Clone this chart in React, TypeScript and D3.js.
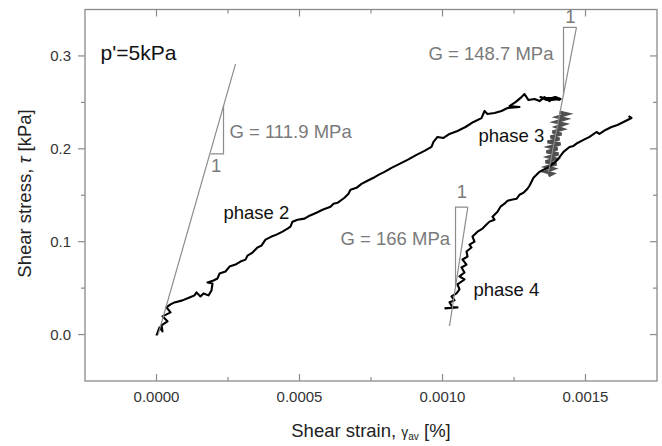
import React from "react";
import * as d3 from "d3";

type P = [number, number];

// Phase 2 loading curve (strain %, stress kPa)
const phase2: P[] = [
  [0, -0.001], [0.0000105, 0.0078], [0.000021, 0.0035], [0.0000175, 0.01], [0.0000385, 0.0143],
  [0.000021, 0.0196], [0.000049, 0.0239], [0.000035, 0.0293], [0.000049, 0.0325], [0.0000629, 0.0346],
  [0.0000909, 0.0368], [0.0001154, 0.04], [0.0001329, 0.0422], [0.0001399, 0.0454], [0.0001538, 0.0411],
  [0.0001643, 0.0443], [0.0001818, 0.0422], [0.0001923, 0.0475], [0.0001958, 0.055], [0.0001783, 0.0561],
  [0.0001993, 0.0582], [0.0002133, 0.0604], [0.0002203, 0.0657], [0.0002413, 0.0679], [0.0002552, 0.0732],
  [0.0002762, 0.0754], [0.0002937, 0.0786], [0.0003112, 0.0807], [0.0003182, 0.085], [0.0003357, 0.0883],
  [0.0003531, 0.0937], [0.0003671, 0.0958], [0.0003811, 0.1022], [0.0004021, 0.1055], [0.0004196, 0.1076],
  [0.0004406, 0.1108], [0.000458, 0.114], [0.0004685, 0.1162], [0.0004755, 0.1215], [0.000493, 0.1237],
  [0.0005175, 0.1248], [0.000535, 0.128], [0.0005594, 0.1312], [0.0005804, 0.1344], [0.0006084, 0.1376],
  [0.0006189, 0.1409], [0.0006329, 0.1419], [0.0006573, 0.1473], [0.0006713, 0.1516], [0.0006783, 0.1559],
  [0.0006993, 0.158], [0.0007168, 0.1623], [0.0007378, 0.1656], [0.0007587, 0.1688], [0.0007762, 0.172],
  [0.0007972, 0.1752], [0.0008217, 0.1795], [0.0008497, 0.1838], [0.0008776, 0.1881], [0.0009091, 0.1935],
  [0.0009371, 0.1978], [0.0009615, 0.2021], [0.0009685, 0.2074], [0.0009825, 0.2128], [0.0010035, 0.2117],
  [0.0010245, 0.216], [0.0010524, 0.2192], [0.0010804, 0.2235], [0.0011084, 0.2289], [0.0011364, 0.2331],
  [0.0011469, 0.2407], [0.0011573, 0.2375], [0.0011818, 0.2385], [0.0012063, 0.2407], [0.0012273, 0.2439],
  [0.0012692, 0.245], [0.0012343, 0.246], [0.0012552, 0.2503], [0.0012762, 0.2557], [0.0012867, 0.2589],
  [0.0013007, 0.2525], [0.0013217, 0.2536], [0.0013392, 0.2514], [0.0013566, 0.2557], [0.0013741, 0.2514],
  [0.0013916, 0.2557], [0.0014091, 0.2525], [0.0013846, 0.2546], [0.0013636, 0.2525], [0.0013427, 0.2557],
  [0.0013671, 0.2536], [0.0013951, 0.2557], [0.0014126, 0.2536], [0.0013811, 0.2525], [0.0013531, 0.2546],
  [0.0014021, 0.2546],
];

// Phase 3 cyclic band
const phase3: P[] = [
  [0.0014091, 0.2396], [0.0014371, 0.2375], [0.0014021, 0.2342], [0.0014301, 0.2321], [0.0013951, 0.2289],
  [0.0014266, 0.2267], [0.0013986, 0.2235], [0.0014196, 0.2213], [0.0013846, 0.2181], [0.0014161, 0.216],
  [0.0013776, 0.2128], [0.0014091, 0.2106], [0.0013671, 0.2074], [0.0014126, 0.2053], [0.0013741, 0.202],
  [0.0014021, 0.1999], [0.0013636, 0.1967], [0.0014056, 0.1945], [0.0013706, 0.1913], [0.0013951, 0.1892],
  [0.0013601, 0.186], [0.0013986, 0.1838], [0.0013636, 0.1806], [0.0013881, 0.1785], [0.0013601, 0.1752],
  [0.0013846, 0.1731], [0.0013706, 0.1709],
];

// Phase 4 reloading curve
const phase4: P[] = [
  [0.001007, 0.0282], [0.0010524, 0.0293], [0.001035, 0.0293], [0.0010245, 0.0347], [0.001042, 0.0368],
  [0.0010315, 0.0411], [0.001049, 0.0443], [0.0010594, 0.0486], [0.0010524, 0.054], [0.0010769, 0.0593],
  [0.0010594, 0.0626], [0.0010769, 0.0668], [0.0010664, 0.0722], [0.0010839, 0.0754], [0.0010699, 0.0808],
  [0.0010874, 0.084], [0.0010839, 0.0894], [0.0011014, 0.0937], [0.0010944, 0.0969], [0.0011119, 0.1001],
  [0.0011049, 0.1055], [0.0011224, 0.1108], [0.0011399, 0.1141], [0.0011538, 0.1184], [0.0011643, 0.1216],
  [0.0011818, 0.1237], [0.0011748, 0.1269], [0.0011923, 0.1323], [0.0012028, 0.1377], [0.0012168, 0.1409],
  [0.0012273, 0.1441], [0.0012413, 0.1452], [0.0012587, 0.1462], [0.0012692, 0.1505], [0.0012832, 0.1527],
  [0.0012972, 0.157], [0.0013042, 0.1602], [0.0013182, 0.1688], [0.0013392, 0.1752], [0.0013531, 0.1774],
  [0.0013671, 0.1795], [0.0013811, 0.1827], [0.0014021, 0.1881], [0.0014231, 0.1967], [0.0014441, 0.202],
  [0.001458, 0.2031], [0.001472, 0.2063], [0.001493, 0.2096], [0.001514, 0.2128], [0.0015385, 0.2181],
  [0.001549, 0.216], [0.0015699, 0.2203], [0.0015909, 0.2235], [0.0016119, 0.2257], [0.0016329, 0.2289],
  [0.0016608, 0.2332], [0.0016504, 0.2353],
];

// Stiffness lines and slope triangles
const lineG1: P[] = [[0.0000056, 0], [0.0002762, 0.2911]];
const triG1: P[] = [[0.0001888, 0.1945], [0.0002343, 0.1945], [0.0002343, 0.2471]];
const lineG2: P[] = [[0.0013706, 0.1752], [0.0014685, 0.3308]];
const triG2: P[] = [[0.0014685, 0.3308], [0.0014231, 0.3308], [0.0014231, 0.2586]];
const lineG3: P[] = [[0.0010245, 0.0092], [0.0010885, 0.1373]];
const triG3: P[] = [[0.0010885, 0.1373], [0.0010455, 0.1373], [0.0010455, 0.0512]];

const xMajor = [0, 0.0005, 0.001, 0.0015];
const xMinor = [0.00025, 0.00075, 0.00125];
const yMajor = [0, 0.1, 0.2, 0.3];
const yMinor = [0.05, 0.15, 0.25];

const grayLabels: { text: string; x: number; y: number; anchor: string }[] = [
  { text: "G = 111.9 MPa", x: 0.0002552, y: 0.2117, anchor: "start" },
  { text: "G = 148.7 MPa", x: 0.000951, y: 0.2954, anchor: "start" },
  { text: "G = 166 MPa", x: 0.0006434, y: 0.0969, anchor: "start" },
  { text: "1", x: 0.0002087, y: 0.1755, anchor: "middle" },
  { text: "1", x: 0.0014476, y: 0.3351, anchor: "middle" },
  { text: "1", x: 0.0010682, y: 0.1473, anchor: "middle" },
];
const blackLabels: { text: string; x: number; y: number }[] = [
  { text: "phase 2", x: 0.0002343, y: 0.1248 },
  { text: "phase 3", x: 0.0011259, y: 0.2074 },
  { text: "phase 4", x: 0.0011084, y: 0.0411 },
];

export default function App() {
  const W = 662, H = 446;
  const L = 85, R = 657, T = 9.5, B = 381;
  const x = d3.scaleLinear().domain([-0.00025, 0.00175]).range([L, R]);
  const y = d3.scaleLinear().domain([-0.05, 0.35]).range([B, T]);
  const line = d3.line<P>().x((d) => x(d[0])).y((d) => y(d[1]));
  const font = "'Liberation Sans', Arial, sans-serif";
  const frame = "#8a8a8a";
  const refCol = "#8c8c8c";

  return (
    <svg width={W} height={H} style={{ position: "absolute", left: 0, top: 0 }} fontFamily={font}>
      <rect x={0} y={0} width={W} height={H} fill="#fff" />
      {/* frame */}
      <rect x={L} y={T} width={R - L} height={B - T} fill="none" stroke={frame} strokeWidth={1.3} />
      {/* x ticks */}
      {xMajor.map((v) => (
        <g key={"xm" + v}>
          <line x1={x(v)} x2={x(v)} y1={B} y2={B - 7} stroke={frame} strokeWidth={1.2} />
          <line x1={x(v)} x2={x(v)} y1={T} y2={T + 7} stroke={frame} strokeWidth={1.2} />
          <text x={x(v)} y={402} textAnchor="middle" fontSize={15} fill="#333">
            {d3.format(".4f")(v)}
          </text>
        </g>
      ))}
      {xMinor.map((v) => (
        <g key={"xn" + v}>
          <line x1={x(v)} x2={x(v)} y1={B} y2={B - 4} stroke={frame} strokeWidth={1.2} />
          <line x1={x(v)} x2={x(v)} y1={T} y2={T + 4} stroke={frame} strokeWidth={1.2} />
        </g>
      ))}
      {/* y ticks */}
      {yMajor.map((v) => (
        <g key={"ym" + v}>
          <line x1={L} x2={L - 7} y1={y(v)} y2={y(v)} stroke={frame} strokeWidth={1.2} />
          <line x1={R} x2={R - 7} y1={y(v)} y2={y(v)} stroke={frame} strokeWidth={1.2} />
          <text x={71} y={y(v) + 5.5} textAnchor="end" fontSize={15} fill="#333">
            {d3.format(".1f")(v)}
          </text>
        </g>
      ))}
      {yMinor.map((v) => (
        <g key={"yn" + v}>
          <line x1={L} x2={L - 4} y1={y(v)} y2={y(v)} stroke={frame} strokeWidth={1.2} />
          <line x1={R} x2={R - 4} y1={y(v)} y2={y(v)} stroke={frame} strokeWidth={1.2} />
        </g>
      ))}
      {/* axis titles */}
      <text x={371} y={437} textAnchor="middle" fontSize={18.5} fill="#222">
        Shear strain, <tspan fontSize={14}>γ</tspan>
        <tspan fontSize={10} dy={3}>av</tspan>
        <tspan dy={-3}> [%]</tspan>
      </text>
      <text
        transform="translate(31,193.5) rotate(-90)"
        textAnchor="middle"
        fontSize={18.5}
        fill="#222"
      >
        Shear stress, <tspan fontStyle="italic">τ</tspan> [kPa]
      </text>
      {/* data curves */}
      <path d={line(phase2) || ""} fill="none" stroke="#000" strokeWidth={2.1} strokeLinejoin="round" />
      <path d={line(phase3) || ""} fill="none" stroke="#505050" strokeWidth={3.2} strokeLinejoin="miter" />
      <path d={line(phase4) || ""} fill="none" stroke="#000" strokeWidth={2.1} strokeLinejoin="round" />
      {/* reference lines */}
      {[lineG1, lineG2, lineG3].map((l, i) => (
        <path key={"l" + i} d={line(l) || ""} fill="none" stroke={refCol} strokeWidth={1.2} />
      ))}
      {[triG1, triG2, triG3].map((l, i) => (
        <path key={"t" + i} d={line(l) || ""} fill="none" stroke={refCol} strokeWidth={1.2} />
      ))}
      {grayLabels.map((g, i) => (
        <text key={"g" + i} x={x(g.x)} y={y(g.y)} textAnchor={g.anchor} fontSize={18.5} fill="#7a7a7a">
          {g.text}
        </text>
      ))}
      {blackLabels.map((b, i) => (
        <text key={"b" + i} x={x(b.x)} y={y(b.y)} fontSize={18.5} fill="#111">
          {b.text}
        </text>
      ))}
      <text x={x(-0.0001958)} y={y(0.2954)} fontSize={21} fill="#111">
        p'=5kPa
      </text>
    </svg>
  );
}
